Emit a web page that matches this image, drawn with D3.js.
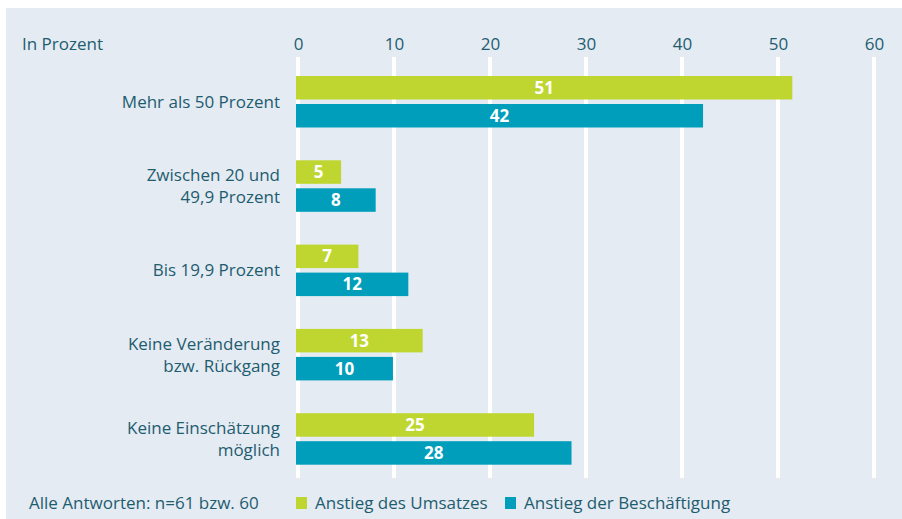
<!DOCTYPE html>
<html>
<head>
<meta charset="utf-8">
<script src="https://cdn.jsdelivr.net/npm/d3@7"></script>
<style>
  html, body { margin: 0; padding: 0; background: #ffffff; }
  svg { display: block; }
  text { font-family: "Open Sans", "Noto Sans", sans-serif; }
</style>
</head>
<body>
<svg id="chart" width="902" height="519"></svg>
<script>
// ---- data ----
const categories = [
  ["Mehr als 50 Prozent"],
  ["Zwischen 20 und", "49,9 Prozent"],
  ["Bis 19,9 Prozent"],
  ["Keine Veränderung", "bzw. Rückgang"],
  ["Keine Einschätzung", "möglich"]
];
const seriesNames = ["Anstieg des Umsatzes", "Anstieg der Beschäftigung"];
const umsatzValues = [51.7, 4.7, 6.5, 13.2, 24.8];
const umsatzLabels = ["51", "5", "7", "13", "25"];
const beschaeftigungValues = [42.4, 8.3, 11.7, 10.1, 28.7];
const beschaeftigungLabels = ["42", "8", "12", "10", "28"];
const tickValues = [0, 10, 20, 30, 40, 50, 60];
const axisTitle = "In Prozent";
const noteText = "Alle Antworten: n=61 bzw. 60";
const colors = ["#bed62f", "#009ebb"];

// ---- layout ----
const svg = d3.select("#chart");
const textColor = "#1e5c70";
const fs = "17px";

svg.append("rect")
  .attr("x", 6).attr("y", 8).attr("width", 896).attr("height", 511)
  .attr("fill", "#e4ebf2");

const x = d3.scaleLinear().domain([0, 60]).range([296, 872]);

const groupTop = i => 76 + i * 84.3;
const barH = 23.5;
const barGap = 4.5;

// gridlines
svg.append("g").selectAll("rect")
  .data(tickValues)
  .join("rect")
  .attr("x", d => x(d))
  .attr("y", 57)
  .attr("width", 4)
  .attr("height", 421)
  .attr("fill", "#ffffff");

// top axis labels
const axis = d3.axisTop(x).tickValues(tickValues).tickSize(0).tickPadding(0);
const axisG = svg.append("g")
  .attr("transform", "translate(2, 50)")
  .call(axis);
axisG.select(".domain").remove();
axisG.selectAll("text")
  .attr("fill", textColor)
  .style("font-size", fs)
  .style("font-family", "'Open Sans', sans-serif");

svg.append("text")
  .attr("x", 22).attr("y", 50)
  .attr("fill", textColor)
  .style("font-size", fs)
  .text(axisTitle);

// bars
const series = [
  { values: umsatzValues, labels: umsatzLabels, color: colors[0] },
  { values: beschaeftigungValues, labels: beschaeftigungLabels, color: colors[1] }
];

series.forEach((s, si) => {
  const g = svg.append("g");
  g.selectAll("rect")
    .data(s.values)
    .join("rect")
    .attr("x", x(0))
    .attr("y", (d, i) => groupTop(i) + si * (barH + barGap))
    .attr("width", d => x(d) - x(0))
    .attr("height", barH)
    .attr("fill", s.color);
  g.selectAll("text")
    .data(s.values)
    .join("text")
    .attr("x", d => (x(0) + x(d)) / 2)
    .attr("y", (d, i) => groupTop(i) + si * (barH + barGap) + barH / 2)
    .attr("dy", "0.36em")
    .attr("text-anchor", "middle")
    .attr("fill", "#ffffff")
    .style("font-size", fs)
    .style("font-weight", "700")
    .text((d, i) => s.labels[i]);
});

// category labels
const catG = svg.append("g");
categories.forEach((lines, i) => {
  const cy = groupTop(i) + barH + barGap / 2;
  const lh = 22;
  const t = catG.append("text")
    .attr("text-anchor", "end")
    .attr("fill", textColor)
    .style("font-size", fs);
  lines.forEach((ln, li) => {
    t.append("tspan")
      .attr("x", 280)
      .attr("y", cy + (li - (lines.length - 1) / 2) * lh)
      .attr("dy", "0.36em")
      .text(ln);
  });
});

// legend / note
const legY = 503;
svg.append("text")
  .attr("x", 29).attr("y", legY)
  .attr("dy", "0.36em")
  .attr("fill", textColor)
  .style("font-size", fs)
  .text(noteText);

const legX = [296, 505];
seriesNames.forEach((name, i) => {
  svg.append("rect")
    .attr("x", legX[i]).attr("y", legY - 6)
    .attr("width", 11).attr("height", 12)
    .attr("fill", colors[i]);
  svg.append("text")
    .attr("x", legX[i] + 19).attr("y", legY)
    .attr("dy", "0.36em")
    .attr("fill", textColor)
    .style("font-size", fs)
    .text(name);
});
</script>
</body>
</html>
